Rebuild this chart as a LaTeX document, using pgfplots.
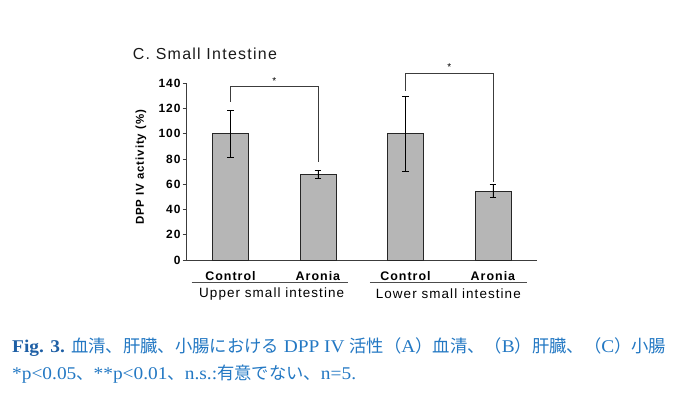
\documentclass[border=0pt]{standalone}
\usepackage{fontspec}
\setmainfont{Liberation Serif}[FakeStretch=1.08]
\newfontfamily\cjk{Noto Sans CJK JP}[Scale=0.965]
\newfontfamily\arial{Liberation Sans}[LetterSpace=8]
\usepackage{pgfplots}
\pgfplotsset{compat=1.18}
\definecolor{capblue}{RGB}{35,120,195}
\definecolor{figblue}{RGB}{30,95,165}
\definecolor{bargray}{RGB}{182,182,182}
\definecolor{axgray}{RGB}{60,60,60}
\begin{document}
\begin{tikzpicture}
\useasboundingbox (0,0) rectangle (674bp,396bp);
\begin{axis}[
  at={(186.7bp,136bp)}, anchor=south west,
  scale only axis, width=350bp, height=176.7bp,
  xmin=-0.5, xmax=3.5, ymin=0, ymax=140,
  axis x line=bottom, axis y line=left,
  axis line style={-, draw=axgray, line width=0.7pt},
  clip=false,
  ytick={0,20,...,140},
  tick align=outside,
  major tick length=4bp,
  tick style={draw=axgray, line width=0.7pt},
  xtick={0,1,2,3},
  xticklabels={Control,Aronia,Control,Aronia},
  xtick style={draw=none},
  extra x ticks={0.5,1.5,2.5,3.5},
  extra x tick labels={},
  extra x tick style={tick style={draw=axgray, line width=0.7pt}, major tick length=4bp},
  /pgf/number format/assume math mode=true,
  yticklabel style={font=\arial\bfseries\fontsize{12}{13}\selectfont, inner sep=2bp},
  xticklabel style={font=\arial\bfseries\fontsize{12.5}{14}\selectfont, yshift=-3.5bp},
]
\addplot[ybar, bar width=0.41, fill=bargray, draw=black!85, line width=0.7pt,
  error bars/.cd, y dir=both, y explicit,
  error bar style={black, line width=0.8pt},
  error mark options={rotate=90, mark size=3.3bp, line width=0.8pt, black}]
  coordinates {
  (0,100) +- (0,18.7)
  (1,68) +- (0,3.3)
  (2,100) +- (0,29.6)
  (3,54.5) +- (0,5.2)
};
% significance brackets
\draw[axgray, line width=0.7pt] (axis cs:0,125.5) -- (axis cs:0,137.4) -- (axis cs:1,137.4) -- (axis cs:1,78);
\node[font=\arial\fontsize{10}{11}\selectfont] at (axis cs:0.5,142) {*};
\draw[axgray, line width=0.7pt] (axis cs:2,134) -- (axis cs:2,148) -- (axis cs:3,148) -- (axis cs:3,62);
\node[font=\arial\fontsize{10}{11}\selectfont] at (axis cs:2.5,152.5) {*};
% group underlines and labels
\draw[black!70, line width=0.9pt] (axis cs:-0.443,-18) -- (axis cs:1.345,-18);
\draw[black!70, line width=0.9pt] (axis cs:1.592,-18) -- (axis cs:3.388,-18);
\node[font=\arial\fontsize{13.5}{15}\selectfont] at (axis cs:0.471,-27) {Upper small intestine};
\node[font=\arial\fontsize{13.5}{15}\selectfont] at (axis cs:2.49,-27) {Lower small intestine};
\end{axis}
% y label
\node[rotate=90, font=\arial\bfseries\fontsize{11.5}{13}\selectfont] at (141bp,228.5bp) {DPP IV activity (\%)};
% title
\node[anchor=west, inner sep=0pt, font=\arial\fontsize{16}{18}\selectfont, text=black!90] at (132.7bp,342.2bp) {C. Small Intestine};
% caption
\node[anchor=base west, inner sep=0pt, text=capblue, font=\fontsize{18}{20}\selectfont] at (12bp,43bp)
  {{\bfseries\color{figblue}Fig. 3.} {\cjk 血清、肝臓、小腸における} DPP IV {\cjk 活性（}A{\cjk ）血清、（}B{\cjk ）肝臓、（}C{\cjk ）小腸}};
\node[anchor=base west, inner sep=0pt, text=capblue, font=\fontsize{18}{20}\selectfont] at (12bp,17bp)
  {*p<0.05{\cjk 、}**p<0.01{\cjk 、}n.s.:{\cjk 有意でない、}n=5.};
\end{tikzpicture}
\end{document}
